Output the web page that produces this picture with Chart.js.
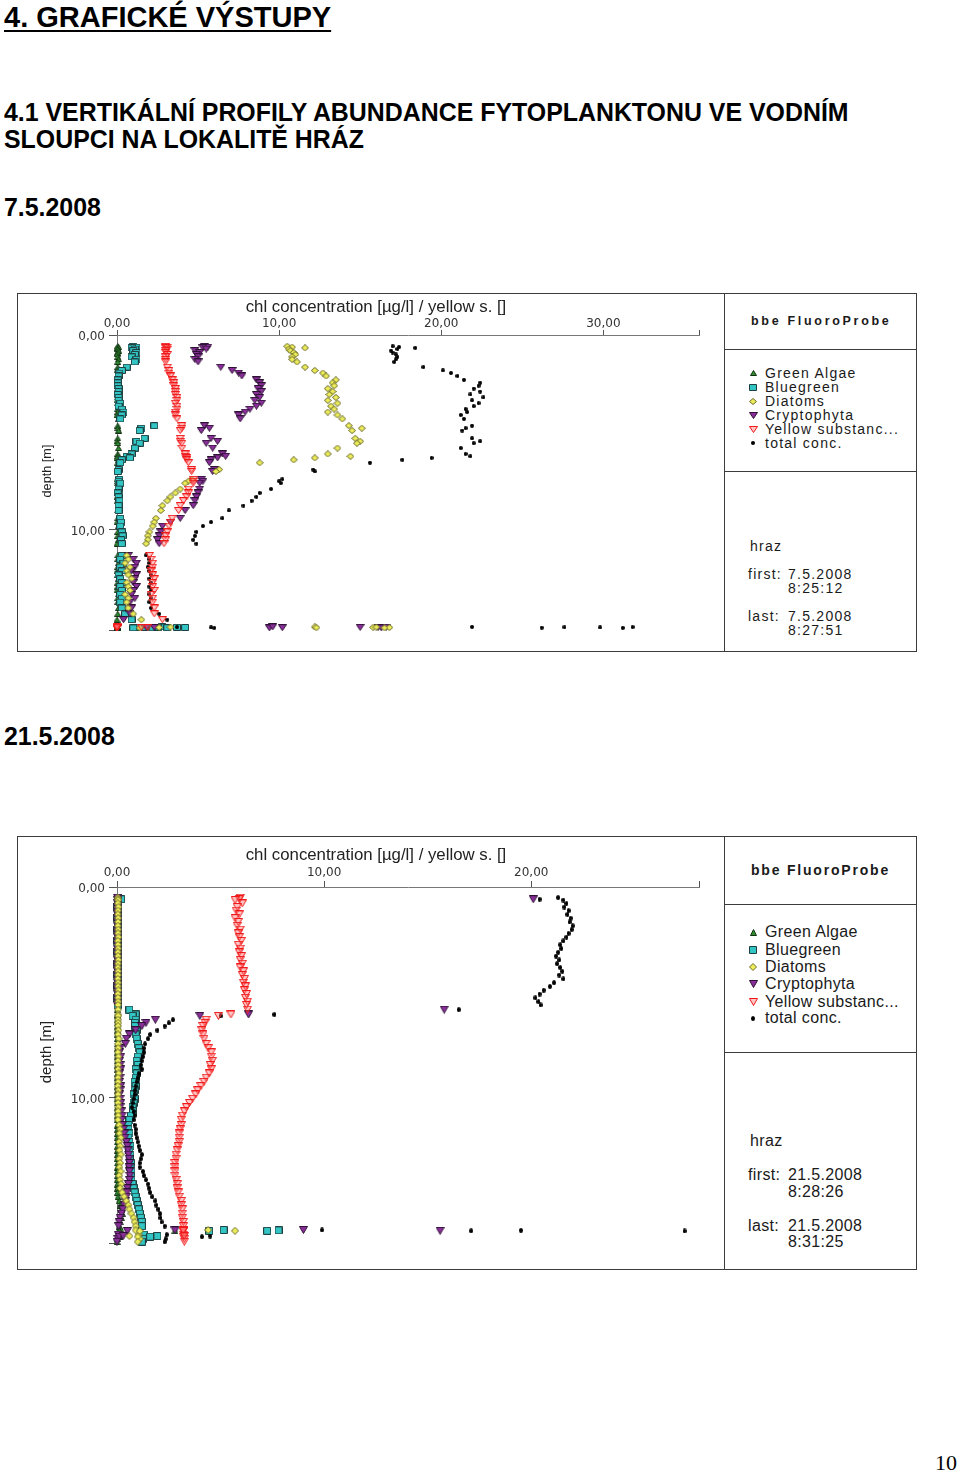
<!DOCTYPE html>
<html lang="cs">
<head>
<meta charset="utf-8">
<title>4. Grafické výstupy</title>
<script src="https://cdn.jsdelivr.net/npm/chart.js@4.4.1/dist/chart.umd.min.js"></script>
<style>
  html, body { margin: 0; padding: 0; background: #fff; }
  body { position: relative; width: 960px; height: 1472px; overflow: hidden;
         font-family: "Liberation Sans", Arial, sans-serif; color: #000; }
  .t { position: absolute; margin: 0; white-space: nowrap; }
  .head { left: 4px; font-weight: bold; font-size: 24.9px; line-height: 27px; }
  #h1 { left: 4px; top: 2.5px; font-size: 29px; line-height: 29px; font-weight: bold;
        text-decoration: underline; text-decoration-thickness: 2px; text-underline-offset: 3px; }
  #pageno { left: 935px; top: 1452px; font-family: "Liberation Serif", serif; font-size: 22px; line-height: 22px; }
  .box { position: absolute; left: 17px; width: 900px; border: 1px solid #3c3c3c; box-sizing: border-box; }
  .vline { position: absolute; left: 724px; width: 1px; background: #3c3c3c; }
  .hline { position: absolute; left: 724px; width: 192px; height: 1px; background: #3c3c3c; }
  .plot { position: absolute; left: 18px; }
  .plot canvas { display: block; }
  .p1 { font-size: 14px; line-height: 14px; letter-spacing: 1.25px; color: #1a1a1a; }
  .p2 { font-size: 16px; line-height: 16px; letter-spacing: 0.35px; color: #1a1a1a; }
  .brand1 { font-weight: bold; font-size: 12.5px; line-height: 13px; letter-spacing: 2.7px; }
  .brand2 { font-weight: bold; font-size: 14px; line-height: 14px; letter-spacing: 1.8px; }
  .icon { position: absolute; }
</style>
</head>
<body>
<div id="h1" class="t">4. GRAFICKÉ VÝSTUPY</div>
<div class="t head" style="top:99px">4.1 VERTIKÁLNÍ PROFILY ABUNDANCE FYTOPLANKTONU VE VODNÍM<br>SLOUPCI NA LOKALITĚ HRÁZ</div>
<div class="t head" style="top:194px">7.5.2008</div>

<div class="box" style="top:293px;height:359px"></div>
<div class="vline" style="top:293px;height:359px"></div>
<div class="hline" style="top:349px"></div>
<div class="hline" style="top:471px"></div>
<div class="plot" style="top:294px"><canvas id="chart1" width="706" height="357"></canvas></div>
<div class="t p1 brand1" style="left:751px;top:315px">bbe FluoroProbe</div>
<div class="t p1" style="left:750px;top:539px">hraz</div>
<div class="t p1" style="left:748px;top:567px">first:</div>
<div class="t p1" style="left:788px;top:567px">7.5.2008</div>
<div class="t p1" style="left:788px;top:581px">8:25:12</div>
<div class="t p1" style="left:748px;top:609px">last:</div>
<div class="t p1" style="left:788px;top:609px">7.5.2008</div>
<div class="t p1" style="left:788px;top:623px">8:27:51</div>

<div class="t head" style="top:723px">21.5.2008</div>

<div class="box" style="top:836px;height:434px"></div>
<div class="vline" style="top:836px;height:434px"></div>
<div class="hline" style="top:904px"></div>
<div class="hline" style="top:1052px"></div>
<div class="plot" style="top:837px"><canvas id="chart2" width="706" height="432"></canvas></div>
<div class="t p2 brand2" style="left:751px;top:863px">bbe FluoroProbe</div>
<div class="t p2" style="left:750px;top:1133px">hraz</div>
<div class="t p2" style="left:748px;top:1167px">first:</div>
<div class="t p2" style="left:788px;top:1167px">21.5.2008</div>
<div class="t p2" style="left:788px;top:1184px">8:28:26</div>
<div class="t p2" style="left:748px;top:1218px">last:</div>
<div class="t p2" style="left:788px;top:1218px">21.5.2008</div>
<div class="t p2" style="left:788px;top:1234px">8:31:25</div>

<div id="pageno" class="t">10</div>

<script>
'use strict';

var SERIES = ['Green Algae', 'Bluegreen', 'Diatoms', 'Cryptophyta', 'Yellow substanc...', 'total conc.'];
var X_TITLE = 'chl concentration [µg/l] / yellow s. []';
var Y_TITLE = 'depth [m]';

// 7.5.2008 - depth [m] and the six readings at each depth
var depth1 = [0.58,0.62,0.66,0.72,0.80,0.90,1.00,1.12,1.25,1.38,
  1.65,1.82,1.95,2.10,2.30,2.45,2.60,2.75,2.90,3.05,
  3.20,3.35,3.50,3.65,3.80,3.95,4.10,4.30,4.65,4.78,
  4.90,5.30,5.45,5.55,5.80,6.10,6.22,6.30,6.40,6.55,
  6.90,7.00,7.40,7.50,7.60,7.90,8.10,8.30,8.50,8.75,
  9.00,9.40,9.60,9.80,10.10,10.30,10.50,10.70,11.30,11.50,
  11.70,11.90,12.10,12.30,12.50,12.70,12.90,13.10,13.30,13.50,
  13.70,14.00,14.30,14.60,
  14.98,15.00,15.02,14.97,15.01,14.99,15.00,15.02,14.98];
var green1 = [0.05,0.1,0,0.05,0.1,0.05,0,0.05,0.1,0.05,
  0.05,0,0.1,0.05,0.05,0.1,0,0.05,0.05,0.1,
  0.05,0,0.05,0.1,0.05,0.05,0,0.1,0.05,0.05,
  0.1,0.05,0,0.05,0.1,0.05,0.05,0,0.1,0.05,
  0.05,0.1,0,0.05,0.05,0.1,0.05,0,0.05,0.1,
  0.05,0.05,0,0.1,0.05,0.05,0.1,0,0.05,0.05,
  0.1,0.05,0,0.05,0.1,0.05,0.05,0,0.1,0.05,
  0.05,0.1,0.05,0,
  0,0,0,0,0,0,0,0,0];
var bluegreen1 = [1.0,1.2,0.9,1.1,1.0,1.2,1.1,0.9,1.2,1.1,
  0.6,0.3,0.15,0.1,0.05,0.05,0.05,0.1,0.1,0.05,
  0.1,0.1,0.2,0.1,0.3,0.4,0.3,0.2,2.3,1.5,
  1.4,1.7,1.2,1.4,1.1,0.9,0.6,0.8,0.3,0.2,
  0.1,0.05,0.15,0.1,0.2,0.1,0.05,0.1,0.15,0.1,
  0.1,0.2,0.25,0.2,0.3,0.35,0.25,0.3,0.3,0.2,
  0.4,0.2,0.3,0.1,0.2,0.3,0.2,0.3,0.2,0.3,
  0.2,0.3,0.5,0.9,
  1.2,1.7,2.2,2.8,3.1,3.7,4.2,1.0,2.5];
var diatoms1 = [10.5,10.8,11.6,10.6,10.7,10.9,11.0,10.8,10.8,11.1,
  11.6,12.2,12.7,12.9,13.5,13.3,13.4,13.0,13.3,13.1,
  13.5,13.0,13.6,13.2,13.4,13.0,13.6,13.9,14.3,15.1,
  14.5,14.7,15.0,14.8,13.6,13.0,14.4,12.2,10.9,8.8,
  6.3,6.1,4.6,4.4,4.2,3.9,3.6,3.3,3.1,2.8,
  2.7,2.4,2.3,2.2,2.0,1.9,1.9,1.8,0.6,0.7,
  0.5,0.8,0.6,0.7,0.9,0.6,0.7,0.8,0.5,0.7,
  0.6,0.7,1.0,1.5,
  3.3,2.6,1.4,12.2,12.3,15.8,16.8,16.5,16.0];
var crypto1 = [5.4,5.6,5.3,5.5,4.8,5.1,4.9,5.0,4.8,5.0,
  6.4,7.1,7.5,7.7,8.6,8.8,8.9,8.7,8.9,8.6,
  8.8,8.5,8.9,8.6,8.2,7.9,7.5,7.6,5.4,5.7,
  5.2,5.8,6.2,5.5,5.9,6.5,6.7,6.2,5.8,5.7,
  6.0,5.9,5.2,5.3,5.1,5.1,5.0,4.9,4.8,4.7,
  4.2,3.9,3.3,2.8,2.7,2.6,2.5,2.6,0.7,1.0,
  1.2,1.1,0.9,1.2,1.1,1.0,1.2,1.0,0.9,1.1,
  0.8,0.9,0.8,0.4,
  1.8,2.3,9.4,9.6,10.2,15.0,16.1,16.3,16.6];
var yellowSub1 = [3.0,3.1,3.0,3.1,3.0,3.0,3.1,3.0,3.0,3.0,
  3.1,3.2,3.2,3.3,3.4,3.5,3.5,3.6,3.6,3.6,
  3.7,3.7,3.6,3.7,3.7,3.6,3.6,3.7,4.0,4.0,
  3.9,3.9,3.9,4.0,4.0,4.2,4.2,4.3,4.3,4.4,
  4.6,4.6,4.7,4.7,4.7,4.4,4.4,4.3,4.1,3.9,
  3.8,3.4,3.3,3.2,3.1,3.0,3.0,2.9,2.0,2.1,
  2.2,2.2,2.1,2.2,2.3,2.2,2.2,2.3,2.1,2.2,
  2.2,2.3,2.3,2.8,
  0.0,1.9,0.0,0.0,1.5,0.0,0.0,0.0,0.0];
var total1 = [17.0,17.4,18.4,17.3,16.9,17.0,17.2,17.3,17.2,17.1,
  18.9,20.1,20.6,21.0,21.4,22.4,22.3,22.0,22.4,21.8,
  22.6,21.9,22.3,22.0,21.5,21.6,21.2,21.4,21.9,21.5,
  21.3,21.9,22.4,22.0,21.2,21.5,21.8,19.4,17.6,15.6,
  12.1,12.2,10.2,10.0,10.1,9.5,8.8,8.6,8.3,7.8,
  6.9,6.5,5.8,5.3,4.9,4.8,4.7,4.9,1.8,2.0,
  2.0,1.9,2.0,2.1,2.0,2.1,2.0,2.1,2.0,2.1,
  2.0,2.1,2.6,3.1,
  3.7,5.8,6.0,21.9,26.2,27.6,29.8,31.2,31.8];
var xTicks1 = [0, 10, 20, 30, 35.9];
var yTicks1 = [0, 10, 15.13];

// 21.5.2008
var depth2 = [0.50,0.58,0.62,0.78,0.95,1.12,1.30,1.48,1.66,1.84,
  2.02,2.20,2.38,2.56,2.74,2.92,3.10,3.28,3.46,3.64,
  3.82,4.00,4.18,4.36,4.54,4.72,4.90,5.08,5.26,5.44,5.60,
  5.82,6.05,6.12,6.30,
  6.45,6.60,6.80,7.00,7.20,7.45,7.65,7.85,8.05,8.25,8.45,8.65,
  8.85,9.05,9.25,9.45,9.65,9.85,10.05,10.25,10.45,10.65,10.85,11.05,
  11.30,11.50,11.70,11.90,12.10,12.30,12.50,12.70,12.90,13.10,13.30,13.50,13.70,
  13.90,14.10,14.30,14.50,14.70,14.90,15.10,15.30,15.50,15.70,15.90,16.10,16.50,16.70,
  16.28,16.32,16.30,16.33,16.60,16.57,16.84];
var green2 = [0.02,0.03,0.02,0.01,0.02,0.03,0.02,0.02,0.01,0.03,
  0.02,0.02,0.03,0.01,0.02,0.02,0.03,0.02,0.01,0.02,
  0.03,0.02,0.02,0.01,0.03,0.02,0.02,0.03,0.01,0.02,0.02,
  0.02,0.02,0.03,0.02,
  0.02,0.03,0.02,0.01,0.02,0.03,0.02,0.02,0.01,0.03,0.02,0.02,
  0.03,0.01,0.02,0.02,0.03,0.02,0.01,0.02,0.03,0.02,0.02,0.01,
  0.02,0.03,0.02,0.01,0.02,0.03,0.02,0.02,0.01,0.03,0.02,0.02,0.03,
  0.01,0.02,0.02,0.03,0.05,0.10,0.15,0.20,0.25,0.20,0.15,0.10,0.05,0.02,
  0.2,2.8,0.1,0.1,0.1,0.1,0.0];
var bluegreen2 = [0.05,0.2,0.03,0.03,0.02,0.03,0.03,0.02,0.03,0.03,
  0.02,0.03,0.03,0.02,0.03,0.03,0.02,0.03,0.03,0.02,
  0.03,0.03,0.02,0.03,0.03,0.02,0.03,0.03,0.02,0.03,0.03,
  0.6,0.9,0.75,0.9,
  0.87,0.87,0.95,0.9,0.95,1.0,1.05,1.1,1.0,0.95,1.0,0.9,
  0.95,0.9,0.85,0.9,0.85,0.8,0.85,0.8,0.75,0.77,0.67,0.6,
  0.55,0.55,0.6,0.55,0.6,0.65,0.6,0.65,0.62,0.68,0.65,0.7,0.68,
  0.7,0.75,0.8,0.85,0.9,0.95,1.0,1.05,1.1,1.15,1.2,1.2,1.3,1.25,
  5.15,7.25,7.8,4.45,1.6,1.95,1.2];
var diatoms2 = [0.04,0.05,0.06,0.04,0.07,0.05,0.04,0.06,0.05,0.04,
  0.06,0.05,0.07,0.04,0.05,0.06,0.04,0.05,0.07,0.05,
  0.04,0.06,0.05,0.04,0.06,0.05,0.07,0.04,0.05,0.06,0.05,
  0.05,0.05,0.06,0.05,
  0.06,0.05,0.07,0.05,0.08,0.05,0.06,0.04,0.07,0.05,0.06,0.05,
  0.08,0.05,0.06,0.04,0.07,0.05,0.06,0.05,0.07,0.05,0.06,0.05,
  0.10,0.15,0.12,0.18,0.10,0.15,0.12,0.18,0.11,0.15,0.12,0.17,0.10,
  0.15,0.20,0.15,0.25,0.35,0.45,0.55,0.60,0.70,0.80,0.85,0.90,1.05,1.10,
  4.4,5.7,0.9,1.1,1.0,0.6,1.0];
var crypto2 = [0.02,20.1,0.02,0.03,0.02,0.01,0.02,0.03,0.02,0.02,
  0.01,0.02,0.03,0.02,0.02,0.01,0.02,0.03,0.02,0.02,
  0.01,0.02,0.03,0.02,0.02,0.01,0.02,0.03,0.02,0.02,0.01,
  15.8,6.35,4.0,1.85,
  1.4,1.2,0.9,0.6,0.45,0.4,0.15,0.12,0.18,0.12,0.15,0.18,
  0.12,0.15,0.12,0.18,0.15,0.12,0.15,0.18,0.15,0.2,0.25,0.22,
  0.25,0.3,0.35,0.38,0.45,0.5,0.53,0.55,0.58,0.6,0.58,0.6,0.62,
  0.6,0.55,0.5,0.48,0.45,0.4,0.35,0.28,0.22,0.15,0.1,0.08,0.06,0.04,
  9.0,15.6,2.8,0.5,0.1,0.3,0.0];
var yellowSub2 = [5.95,5.90,5.70,6.05,5.80,5.75,5.90,5.70,5.85,5.80,
  5.95,5.85,5.90,6.00,5.85,5.95,5.90,6.00,5.95,6.05,
  5.95,6.10,6.05,6.15,6.10,6.20,6.15,6.25,6.20,6.30,6.25,
  6.30,5.50,4.90,4.30,
  4.25,4.15,4.10,4.15,4.20,4.30,4.40,4.55,4.55,4.60,4.50,4.55,
  4.45,4.30,4.20,4.05,3.90,3.80,3.65,3.50,3.35,3.25,3.15,3.10,
  3.10,3.05,3.00,3.00,3.00,2.95,2.90,2.85,2.85,2.80,2.80,2.80,2.80,
  2.85,2.90,2.90,2.95,3.00,3.10,3.10,3.15,3.15,3.15,3.20,3.20,3.20,3.25,
  3.20,3.20,3.20,3.20,3.20,3.25,3.25];
var total2 = [21.30,20.40,21.55,21.70,21.60,21.80,21.75,21.90,21.85,22.00,
  21.95,21.80,21.70,21.55,21.40,21.45,21.30,21.20,21.35,21.25,
  21.40,21.50,21.35,21.55,21.10,20.90,20.60,20.40,20.20,20.35,20.45,
  16.5,7.6,5.0,2.7,
  2.5,2.3,1.95,1.6,1.5,1.35,1.3,1.3,1.25,1.2,1.15,1.2,
  1.05,1.0,0.95,0.9,0.87,0.85,0.8,0.75,0.72,0.8,0.85,0.8,
  0.85,0.9,0.9,0.95,1.0,1.05,1.1,1.2,1.15,1.1,1.1,1.25,1.3,
  1.4,1.5,1.55,1.6,1.7,1.85,1.9,2.0,2.07,2.1,2.15,2.3,2.4,2.35,
  9.9,17.1,19.5,27.4,4.1,4.5,2.3];
var xTicks2 = [0, 10, 20, 28.1];
var yTicks2 = [0, 10, 16.9];

// marker look per series, same order as SERIES
var MARKERS = [
  { shape: 'up', w: 7, h: 6, fill: '#2f8f2f', stroke: '#143014' },
  { shape: 'rect', w: 8, h: 7, fill: '#33c4c4', stroke: '#1f4040' },
  { shape: 'diamond', w: 8, h: 7, fill: '#eded5a', stroke: '#6a6a2a' },
  { shape: 'down', w: 9, h: 7, fill: '#8a2f9a', stroke: '#2e1035' },
  { shape: 'down', w: 9, h: 7, fill: 'rgba(255,110,110,0.4)', stroke: '#f01818' },
  { shape: 'dot', w: 4, h: 4, fill: '#000', stroke: null }
];
// lower order is painted on top
var DRAW_ORDER = [5, 4, 2, 3, 0, 1];

function makeMarker(m, stretch) {
  var c = document.createElement('canvas');
  var w = m.w;
  var h = Math.round(m.h * (stretch || 1));
  c.width = w;
  c.height = h;
  var g = c.getContext('2d');
  g.beginPath();
  if (m.shape === 'up') {
    g.moveTo(w / 2, 0.5); g.lineTo(w - 0.5, h - 0.5); g.lineTo(0.5, h - 0.5); g.closePath();
  } else if (m.shape === 'down') {
    g.moveTo(0.5, 0.5); g.lineTo(w - 0.5, 0.5); g.lineTo(w / 2, h - 0.5); g.closePath();
  } else if (m.shape === 'rect') {
    g.rect(0.5, 0.5, w - 1, h - 1);
  } else if (m.shape === 'diamond') {
    g.moveTo(w / 2, 0.5); g.lineTo(w - 0.5, h / 2); g.lineTo(w / 2, h - 0.5); g.lineTo(0.5, h / 2); g.closePath();
  } else {
    g.ellipse(w / 2, h / 2, w / 2, h / 2, 0, 0, Math.PI * 2);
  }
  g.fillStyle = m.fill;
  g.fill();
  if (m.stroke) {
    g.lineWidth = 1;
    g.strokeStyle = m.stroke;
    g.stroke();
  }
  return c;
}

function fmtTick(v) {
  return v % 10 === 0 ? v.toFixed(2).replace('.', ',') : '';
}

var axisTitles = {
  id: 'axisTitles',
  afterDraw: function (chart, args, opts) {
    var ctx = chart.ctx;
    ctx.save();
    ctx.fillStyle = '#222';
    ctx.textAlign = 'center';
    ctx.textBaseline = 'middle';
    ctx.font = opts.xSize + 'px "Liberation Sans", Arial, sans-serif';
    ctx.fillText(X_TITLE, opts.xAt[0], opts.xAt[1]);
    ctx.translate(opts.yAt[0], opts.yAt[1]);
    ctx.rotate(-Math.PI / 2);
    ctx.font = opts.ySize + 'px "Liberation Sans", Arial, sans-serif';
    ctx.fillText(Y_TITLE, 0, 0);
    ctx.restore();
  }
};

function buildChart(cfg) {
  var datasets = SERIES.map(function (name, i) {
    var vals = cfg.values[i];
    return {
      label: name,
      data: cfg.depth.map(function (d, k) { return { x: vals[k], y: d }; }),
      pointStyle: makeMarker(MARKERS[i], cfg.stretch),
      pointRadius: 3,
      pointHoverRadius: 3,
      showLine: false,
      clip: false,
      order: DRAW_ORDER[i]
    };
  });
  var xTicks = cfg.xTicks;
  var yTicks = cfg.yTicks;
  return new Chart(document.getElementById(cfg.id), {
    type: 'scatter',
    data: { datasets: datasets },
    plugins: [axisTitles],
    options: {
      responsive: false,
      animation: false,
      events: [],
      layout: { padding: { left: 0, top: 0, right: cfg.frame.right, bottom: cfg.frame.bottom } },
      plugins: {
        legend: { display: false },
        tooltip: { enabled: false },
        axisTitles: { xAt: cfg.xAt, yAt: cfg.yAt, xSize: 16.8, ySize: cfg.ySize }
      },
      scales: {
        x: {
          type: 'linear',
          position: 'top',
          min: 0,
          max: xTicks[xTicks.length - 1],
          afterBuildTicks: function (s) { s.ticks = xTicks.map(function (v) { return { value: v }; }); },
          afterFit: function (s) { s.height = cfg.frame.top; s.paddingLeft = 0; s.paddingRight = 0; },
          ticks: { autoSkip: false, maxRotation: 0, padding: cfg.xPad, color: '#333', font: { size: 12 }, callback: fmtTick },
          grid: { drawOnChartArea: false, drawTicks: true, tickLength: cfg.xTickLen, color: '#555' },
          border: { display: true, color: '#777', width: 1 }
        },
        y: {
          type: 'linear',
          reverse: true,
          min: 0,
          max: yTicks[yTicks.length - 1],
          afterBuildTicks: function (s) { s.ticks = yTicks.map(function (v) { return { value: v }; }); },
          afterFit: function (s) { s.width = cfg.frame.left; s.paddingTop = 0; s.paddingBottom = 0; },
          ticks: { autoSkip: false, padding: 4, labelOffset: 2, color: '#333', font: { size: 12 }, callback: fmtTick },
          grid: { drawOnChartArea: false, drawTicks: true, tickLength: 8, color: '#555' },
          border: { display: true, color: '#777', width: 1 }
        }
      }
    }
  });
}

function buildLegend(tops, cls, iconDy, stretch) {
  SERIES.forEach(function (name, i) {
    var row = document.createElement('div');
    row.className = 't ' + cls;
    row.style.left = '765px';
    row.style.top = tops[i] + 'px';
    row.textContent = name;
    document.body.appendChild(row);
    var ic = makeMarker(MARKERS[i], stretch);
    ic.className = 'icon';
    ic.style.left = Math.round(753 - ic.width / 2) + 'px';
    ic.style.top = Math.round(tops[i] + iconDy - ic.height / 2) + 'px';
    document.body.appendChild(ic);
  });
}

Chart.defaults.font.family = '"DejaVu Sans", sans-serif';
Chart.defaults.color = '#333';

buildChart({
  id: 'chart1',
  depth: depth1,
  values: [green1, bluegreen1, diatoms1, crypto1, yellowSub1, total1],
  xTicks: xTicks1,
  yTicks: yTicks1,
  frame: { left: 99, top: 41, right: 25, bottom: 21 },
  xTickLen: 5, xPad: -1,
  xAt: [358, 13], yAt: [29, 177], ySize: 12.7,
  stretch: 1
});

buildChart({
  id: 'chart2',
  depth: depth2,
  values: [green2, bluegreen2, diatoms2, crypto2, yellowSub2, total2],
  xTicks: xTicks2,
  yTicks: yTicks2,
  frame: { left: 99, top: 50, right: 25, bottom: 26 },
  xTickLen: 6, xPad: 1,
  xAt: [358, 18], yAt: [29, 215], ySize: 15,
  stretch: 1.2
});

buildLegend([366, 380, 394, 408, 422, 436], 'p1', 7, 1);
buildLegend([924, 942, 959, 976, 994, 1010], 'p2', 8, 1.2);
</script>
</body>
</html>
